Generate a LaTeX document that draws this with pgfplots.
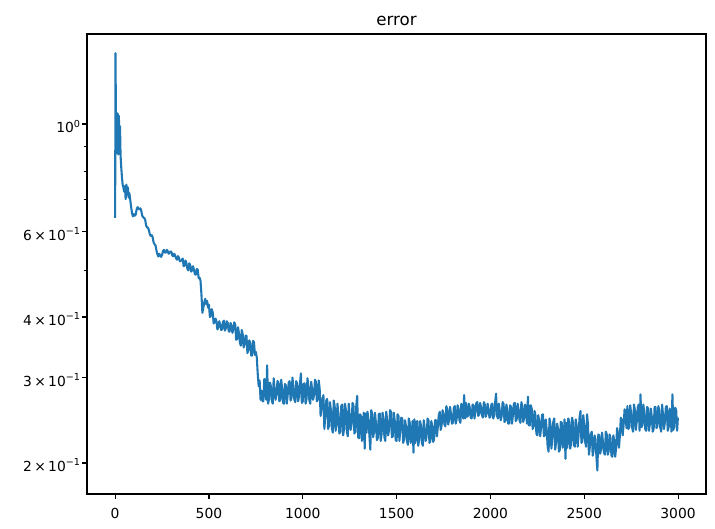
\documentclass[border=0pt]{standalone}
\usepackage{fontspec}
\setmainfont{DejaVu Sans}
\usepackage{pgfplots}
\pgfplotsset{compat=1.18}
\definecolor{mplblue}{HTML}{1F77B4}
\newcommand{\ssup}[1]{\raisebox{0.42em}{\fontsize{9.7}{10}\selectfont #1}}
\begin{document}
\begin{tikzpicture}
\begin{axis}[
  name=ax, at={(0,0)}, anchor=south west,
  width=619bp, height=460bp, scale only axis,
  xmin=-149.95, xmax=3148.95,
  ymode=log, ymin=0.1726, ymax=1.533,
  xtick={0,500,1000,1500,2000,2500,3000},
  ytick={0.2,0.3,0.4,0.6,1},
  yticklabels={2\,×\,10\ssup{−1},3\,×\,10\ssup{−1},4\,×\,10\ssup{−1},6\,×\,10\ssup{−1},10\ssup{0}},
  minor ytick={0.5,0.7,0.8,0.9},
  tick align=outside, tick pos=left,
  major tick length=4.86bp, minor tick length=2.78bp,
  every major tick/.style={black, line width=1.11bp},
  every minor tick/.style={black, line width=0.83bp},
  axis line style={black, line width=1.11bp},
  /pgf/number format/assume math mode=true,
  /pgf/number format/1000 sep={},
  ticklabel style={font=\fontsize{13.9}{16}\selectfont, text=black},
  xticklabel style={yshift=-6bp},
  yticklabel style={yshift=-2.5bp, xshift=1.5bp},
  title={error},
  title style={font=\fontsize{16.7}{20}\selectfont, at={(0.5,1)}, anchor=base, yshift=2.3bp},
]
\addplot[mplblue, line width=2.08bp, line join=round] coordinates {
(0,0.640) (2,1.400) (5,0.92) (8,1.055) (11,0.87) (14,1.05) (17,0.865) (20,1.04) (23,0.88) (26,0.99) (29,0.86) (32,0.82) (36,0.78) (40,0.75) (44,0.74) (48,0.725) (52,0.745) (56,0.70) (60,0.75) (64,0.715) (68,0.74) (72,0.705) (76,0.72) (80,0.70) (85,0.675) (90,0.655) (95,0.645)
(100,0.652) (105,0.647) (110,0.651) (115,0.668) (120,0.674) (125,0.668) (130,0.667) (135,0.670) (140,0.660) (145,0.646) (150,0.642) (155,0.640) (160,0.635) (165,0.618) (170,0.612) (175,0.611) (180,0.604) (185,0.592) (190,0.588) (195,0.590) (200,0.584) (205,0.570) (210,0.565) (215,0.562) (220,0.549) (225,0.539) (230,0.533) (235,0.540) (240,0.536) (245,0.532) (250,0.537) (255,0.547) (260,0.550) (265,0.543) (270,0.543) (275,0.550) (280,0.547) (285,0.540) (290,0.542) (295,0.546) (300,0.545) (305,0.535) (310,0.534) (315,0.540) (320,0.535) (325,0.528) (330,0.525) (335,0.534) (340,0.530) (345,0.521) (350,0.522) (355,0.524)
(360,0.528) (365,0.509) (370,0.511) (375,0.523) (380,0.516) (385,0.503) (390,0.499) (395,0.516) (400,0.512) (405,0.496) (410,0.499) (415,0.509) (420,0.501) (425,0.490) (430,0.489) (435,0.502) (440,0.501) (445,0.481) (450,0.482)
(455,0.475) (460,0.445) (465,0.408) (470,0.418) (475,0.428) (480,0.436) (485,0.425) (490,0.432) (495,0.418) (500,0.424) (505,0.400) (510,0.402) (515,0.415) (520,0.409) (525,0.388) (530,0.390) (535,0.397)
(540,0.392) (545,0.377) (550,0.381) (555,0.392) (560,0.386) (565,0.376) (570,0.377) (575,0.391) (580,0.393) (585,0.375) (590,0.379) (595,0.392) (600,0.389) (605,0.374) (610,0.373) (615,0.389) (620,0.384) (625,0.371) (630,0.377) (635,0.390)
(640,0.386) (645,0.359) (650,0.360) (655,0.381) (660,0.370) (665,0.354) (670,0.349) (675,0.376) (680,0.368) (685,0.346) (690,0.352) (695,0.366) (700,0.366) (705,0.337) (710,0.342) (715,0.358) (720,0.353) (725,0.333) (730,0.333) (735,0.357) (740,0.355) (745,0.334) (750,0.339)
(755,0.330) (760,0.305) (765,0.288) (770,0.296) (775,0.270)
(780,0.282) (785,0.268) (790,0.268) (795,0.298) (800,0.292) (805,0.270) (810,0.318) (815,0.265) (820,0.271) (825,0.293) (830,0.288) (835,0.269) (840,0.265) (845,0.299) (850,0.283) (855,0.270) (860,0.276) (865,0.295) (870,0.294) (875,0.268) (880,0.270) (885,0.297) (890,0.285) (895,0.266) (900,0.265) (905,0.291) (910,0.289) (915,0.265) (920,0.277) (925,0.293) (930,0.295) (935,0.269) (940,0.273) (945,0.300) (950,0.286) (955,0.270) (960,0.267) (965,0.295) (970,0.291) (975,0.268) (980,0.274) (985,0.292) (990,0.306) (995,0.266) (1000,0.268) (1005,0.291) (1010,0.292) (1015,0.265) (1020,0.271) (1025,0.299) (1030,0.288) (1035,0.269) (1040,0.265) (1045,0.294) (1050,0.283) (1055,0.270) (1060,0.276) (1065,0.297) (1070,0.294) (1075,0.268) (1080,0.270) (1085,0.296) (1090,0.285) (1095,0.250)
(1100,0.258) (1105,0.271) (1110,0.276) (1115,0.235) (1120,0.250) (1125,0.269) (1130,0.271) (1135,0.235) (1140,0.239) (1145,0.267) (1150,0.257) (1155,0.236) (1160,0.231) (1165,0.269) (1170,0.262) (1175,0.233) (1180,0.240) (1185,0.265) (1190,0.250) (1195,0.230) (1200,0.232) (1205,0.262) (1210,0.264) (1215,0.228) (1220,0.235) (1225,0.265) (1230,0.257) (1235,0.232) (1240,0.227) (1245,0.265) (1250,0.250) (1255,0.234) (1260,0.240) (1265,0.266) (1270,0.263) (1275,0.230) (1280,0.232) (1285,0.262) (1290,0.275) (1295,0.226) (1300,0.225) (1305,0.252)
(1310,0.250) (1315,0.222) (1320,0.236) (1325,0.254) (1330,0.214) (1335,0.253) (1340,0.231) (1345,0.255) (1350,0.246) (1355,0.228) (1360,0.213) (1365,0.257) (1370,0.252) (1375,0.226) (1380,0.232) (1385,0.254) (1390,0.241) (1395,0.223) (1400,0.225) (1405,0.252) (1410,0.253) (1415,0.222) (1420,0.229) (1425,0.254) (1430,0.248) (1435,0.226) (1440,0.222) (1445,0.255) (1450,0.243) (1455,0.228) (1460,0.234) (1465,0.257) (1470,0.255) (1475,0.226) (1480,0.227) (1485,0.254) (1490,0.245) (1495,0.223) (1500,0.222) (1505,0.252) (1510,0.250) (1515,0.222) (1520,0.235) (1525,0.248)
(1530,0.247) (1535,0.220) (1540,0.224) (1545,0.245) (1550,0.238) (1555,0.222) (1560,0.218) (1565,0.247) (1570,0.242) (1575,0.220) (1580,0.226) (1585,0.244) (1590,0.210) (1595,0.246) (1600,0.220) (1605,0.242) (1610,0.244) (1615,0.217) (1620,0.223) (1625,0.244) (1630,0.239) (1635,0.220) (1640,0.217) (1645,0.245) (1650,0.235) (1655,0.222) (1660,0.227) (1665,0.247) (1670,0.245) (1675,0.220) (1680,0.222) (1685,0.244) (1690,0.238) (1695,0.221)
(1700,0.224) (1705,0.245) (1710,0.245) (1715,0.227) (1720,0.238) (1725,0.251) (1730,0.255) (1735,0.234) (1740,0.239) (1745,0.257) (1750,0.252) (1755,0.240) (1760,0.238) (1765,0.262) (1770,0.258) (1775,0.240) (1780,0.246) (1785,0.261) (1790,0.252) (1795,0.241) (1800,0.242) (1805,0.260) (1810,0.262) (1815,0.241) (1820,0.246) (1825,0.263) (1830,0.259) (1835,0.245) (1840,0.242) (1845,0.265) (1850,0.256) (1855,0.247) (1860,0.276) (1865,0.247)
(1870,0.266) (1875,0.249) (1880,0.250) (1885,0.265) (1890,0.260) (1895,0.248) (1900,0.247) (1905,0.264) (1910,0.263) (1915,0.247) (1920,0.255) (1925,0.266) (1930,0.267) (1935,0.250) (1940,0.252) (1945,0.266) (1950,0.261) (1955,0.251) (1960,0.248) (1965,0.267) (1970,0.264) (1975,0.249) (1980,0.253) (1985,0.265) (1990,0.258) (1995,0.248) (2000,0.249) (2005,0.264) (2010,0.265) (2015,0.247) (2020,0.251) (2025,0.266) (2030,0.278) (2035,0.250) (2040,0.247) (2045,0.265)
(2050,0.256) (2055,0.245) (2060,0.250) (2065,0.267) (2070,0.265) (2075,0.243) (2080,0.244) (2085,0.264) (2090,0.257) (2095,0.241) (2100,0.241) (2105,0.263) (2110,0.261) (2115,0.241) (2120,0.251) (2125,0.265) (2130,0.266) (2135,0.244) (2140,0.246) (2145,0.265) (2150,0.258) (2155,0.245) (2160,0.242) (2165,0.267) (2170,0.262) (2175,0.243) (2180,0.248) (2185,0.264) (2190,0.254) (2195,0.241) (2200,0.274) (2205,0.239)
(2210,0.239) (2215,0.263) (2220,0.259) (2225,0.235) (2230,0.238) (2235,0.256) (2240,0.251) (2245,0.230) (2250,0.228) (2255,0.251) (2260,0.244) (2265,0.227) (2270,0.236) (2275,0.251) (2280,0.252) (2285,0.227) (2290,0.228) (2295,0.246)
(2300,0.234) (2305,0.216) (2310,0.211) (2315,0.247) (2320,0.240) (2325,0.214) (2330,0.225) (2335,0.243) (2340,0.247) (2345,0.213) (2350,0.220) (2355,0.241) (2360,0.236) (2365,0.211) (2370,0.213) (2375,0.243) (2380,0.242) (2385,0.215) (2390,0.222) (2395,0.246) (2400,0.204) (2405,0.242) (2410,0.215) (2415,0.247) (2420,0.243) (2425,0.214) (2430,0.219) (2435,0.248)
(2440,0.243) (2445,0.218) (2450,0.216) (2455,0.246) (2460,0.238) (2465,0.216) (2470,0.229) (2475,0.248) (2480,0.256) (2485,0.220) (2490,0.222) (2495,0.251) (2500,0.239) (2505,0.221) (2510,0.216) (2515,0.252) (2520,0.240) (2525,0.208)
(2530,0.216) (2535,0.229) (2540,0.232) (2545,0.207) (2550,0.212) (2555,0.228) (2560,0.224) (2565,0.206) (2570,0.193) (2575,0.229) (2580,0.228) (2585,0.209) (2590,0.214) (2595,0.231) (2600,0.220) (2605,0.210) (2610,0.208) (2615,0.232) (2620,0.229) (2625,0.208) (2630,0.211) (2635,0.229) (2640,0.225) (2645,0.207) (2650,0.206) (2655,0.228) (2660,0.222) (2665,0.206)
(2670,0.215) (2675,0.236) (2680,0.230) (2685,0.215) (2690,0.228) (2695,0.248) (2700,0.245) (2705,0.228) (2710,0.240) (2715,0.258) (2720,0.255) (2725,0.236)
(2730,0.262) (2735,0.235) (2740,0.237) (2745,0.263) (2750,0.253) (2755,0.237) (2760,0.232) (2765,0.264) (2770,0.257) (2775,0.234) (2780,0.244) (2785,0.260) (2790,0.264) (2795,0.233) (2800,0.277) (2805,0.237) (2810,0.240) (2815,0.264) (2820,0.254) (2825,0.235) (2830,0.233) (2835,0.261) (2840,0.259) (2845,0.233) (2850,0.241) (2855,0.259) (2860,0.249) (2865,0.232) (2870,0.235) (2875,0.261) (2880,0.261) (2885,0.236) (2890,0.238) (2895,0.262) (2900,0.256) (2905,0.237) (2910,0.232) (2915,0.264) (2920,0.251) (2925,0.235) (2930,0.243) (2935,0.261) (2940,0.262) (2945,0.233) (2950,0.237) (2955,0.259) (2960,0.253) (2965,0.232) (2970,0.277) (2975,0.234) (2980,0.238) (2985,0.260) (2990,0.257) (2995,0.233) (2999,0.248)
};
\end{axis}
\pgfresetboundingbox
\path[use as bounding box] ([xshift=-87bp,yshift=-35bp]ax.south west) rectangle ([xshift=9bp,yshift=34bp]ax.north east);
\end{tikzpicture}
\end{document}
